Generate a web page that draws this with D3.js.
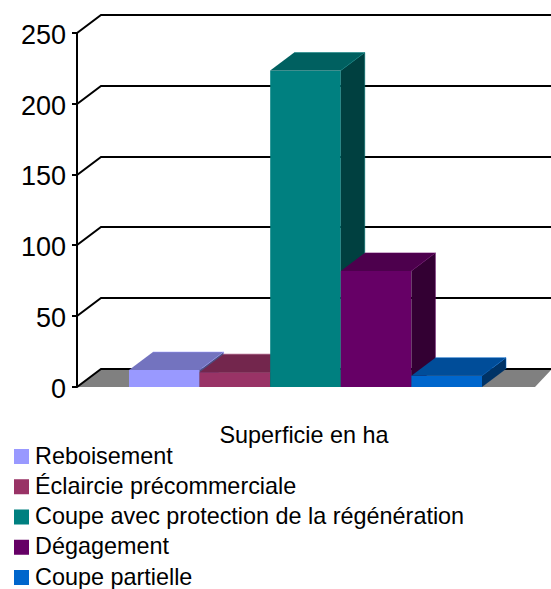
<!DOCTYPE html>
<html><head><meta charset="utf-8">
<script src="https://cdn.jsdelivr.net/npm/d3@7"></script>
<style>html,body{margin:0;padding:0;background:#fff}svg{display:block}text{font-family:"Liberation Sans",Arial,sans-serif;fill:#000}</style>
</head><body><svg id="c" width="551" height="589"></svg>
<script>
const categories=["Reboisement","Éclaircie précommerciale","Coupe avec protection de la régénération","Dégagement","Coupe partielle"];
const values=[12,10.5,223.5,82,8];
const colors=["#9999FF","#993366","#008080","#660066","#0066CC"];
const ticks=[0,50,100,150,200,250];
const xTitle="Superficie en ha";
const W=551,H=589,dx=24,dy=-18;
const svg=d3.select("#c");
const y=d3.scaleLinear().domain([0,250]).range([387,33]);
const x=d3.scaleBand().domain(categories).range([129,482]).padding(0);
const floorX=[77,535];
const pts=a=>a.map(p=>p.join(",")).join(" ");
const shade=(c,k)=>{const r=d3.rgb(c);return d3.rgb(r.r*k,r.g*k,r.b*k).formatHex();};
// floor
svg.append("polygon").attr("points",pts([[floorX[0],y(0)],[floorX[0]+dx,y(0)+dy],[W+1,y(0)+dy],[floorX[1],y(0)]])).attr("fill","#808080");
// grid
const g=svg.append("g").attr("fill","none").attr("stroke","#000").attr("stroke-width",2);
ticks.forEach(t=>{
  const yy=Math.round(y(t));
  g.append("polyline").attr("points",pts([[72,yy],[77,yy],[77+dx,yy+dy],[W,yy+dy]]));
});
g.append("line").attr("x1",77).attr("x2",77).attr("y1",y(250)).attr("y2",y(0));
// tick labels
svg.append("g").selectAll("text").data(ticks).join("text")
  .attr("x",66).attr("y",d=>y(d)+1).attr("dy","0.36em").attr("text-anchor","end")
  .attr("font-size",27).text(d=>d);
// bars
categories.forEach((c,i)=>{
  const x0=x(c),x1=x0+x.bandwidth(),yt=y(values[i]),yb=y(0),col=colors[i];
  const b=svg.append("g");
  b.append("polygon").attr("points",pts([[x0,yt],[x1,yt],[x1,yb],[x0,yb]])).attr("fill",col);
  b.append("polygon").attr("points",pts([[x0,yt],[x0+dx,yt+dy],[x1+dx,yt+dy],[x1,yt]])).attr("fill",shade(col,.75));
  b.append("polygon").attr("points",pts([[x1,yt],[x1+dx,yt+dy],[x1+dx,yb+dy],[x1,yb]])).attr("fill",shade(col,.5));
  b.append("polyline").attr("points",pts([[x0+dx,yt+dy],[x1+dx,yt+dy],[x1+dx,yb+dy]])).attr("fill","none").attr("stroke",col).attr("stroke-opacity",.5).attr("stroke-width",1);
  b.append("line").attr("x1",x1).attr("y1",yt).attr("x2",x1+dx).attr("y2",yt+dy).attr("stroke",col).attr("stroke-opacity",.6).attr("stroke-width",1);
});
// axis title
svg.append("text").attr("x",304).attr("y",443).attr("text-anchor","middle").attr("font-size",23.4).text(xTitle);
// legend
const ly=d3.scalePoint().domain(categories).range([456,577]);
const leg=svg.append("g").selectAll("g").data(categories).join("g").attr("transform",d=>`translate(0,${ly(d)})`);
leg.append("rect").attr("x",14).attr("y",-7).attr("width",15).attr("height",15).attr("fill",(d,i)=>colors[i]);
leg.append("text").attr("x",35).attr("y",7.5).attr("font-size",23.4).text(d=>d);
</script></body></html>
